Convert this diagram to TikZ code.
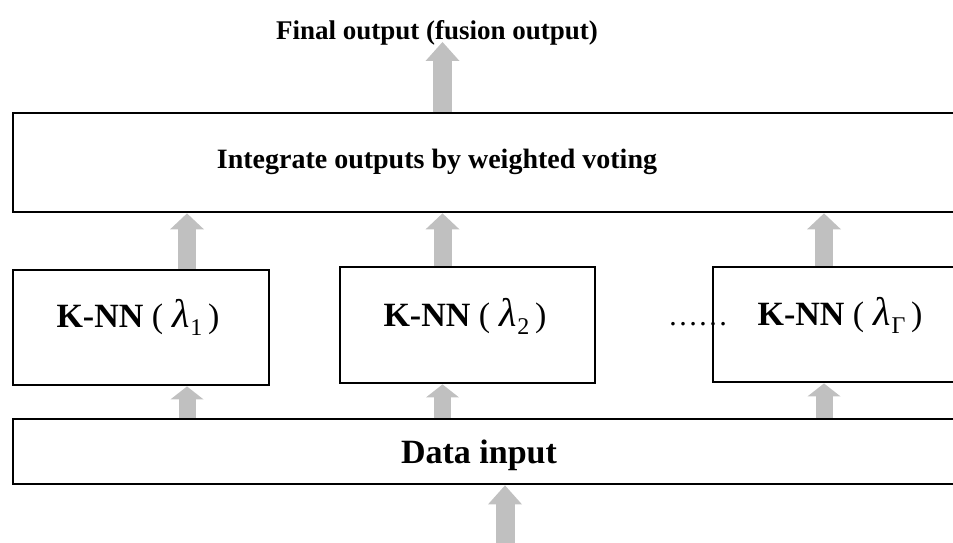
\documentclass[tikz,border=0pt]{standalone}
\usepackage{fontspec}
\setmainfont{Liberation Serif}
\usetikzlibrary{arrows.meta}
\definecolor{arrowgray}{HTML}{C0C0C0}
\newcommand{\lamsub}[1]{{\mdseries\fontsize{40}{44}\selectfont\itshape λ}\kern0.5pt\raisebox{-8pt}{\mdseries\fontsize{24}{26}\selectfont #1}}
\begin{document}
\begin{tikzpicture}[x=1pt,y=-1pt,
  box/.style={draw=black, line width=2.4pt, fill=white, inner sep=0pt, anchor=north west},
  lbl/.style={font=\bfseries\fontsize{28}{32}\selectfont, anchor=base, inner sep=0pt},
  knnlbl/.style={lbl, font=\bfseries\fontsize{34}{38}\selectfont},
  blk/.style={draw=arrowgray, line width=#1, line cap=butt},
  blkA/.style={blk=18pt, -{Triangle[width=34pt,length=16pt,line width=0pt 0 0]}},
  blkB/.style={blk=17pt, -{Triangle[width=33pt,length=13pt,line width=0pt 0 0]}},
  blkC/.style={blk=19pt, -{Triangle[width=34pt,length=19pt,line width=0pt 0 0]}}]
\useasboundingbox (0,0) rectangle (953,543);
\clip (0,0) rectangle (953,543);

% boxes
\node[box, minimum width=960pt, minimum height=99pt] (integ) at (12,112) {};
\node[box, minimum width=256pt, minimum height=115pt] (knn1) at (12,269) {};
\node[box, minimum width=255pt, minimum height=116pt] (knn2) at (339,266) {};
\node[box, minimum width=300pt, minimum height=115pt] (knn3) at (712,266) {};
\node[box, minimum width=960pt, minimum height=65pt] (data) at (12,418) {};

% texts
\node[lbl, font=\bfseries\fontsize{27}{31}\selectfont] (title) at (437,40) {Final output (fusion output)};
\node[lbl] (integt) at (437,168) {Integrate outputs by weighted voting};
\node[lbl, font=\bfseries\fontsize{34}{38}\selectfont] (datat) at (479,463) {Data input};
\node[knnlbl] (k1t) at (138,327) {K-NN \mdseries(\;\lamsub{1}\,)};
\node[knnlbl] (k2t) at (465,326) {K-NN \mdseries(\;\lamsub{2}\,)};
\node[knnlbl] (k3t) at (840,325) {K-NN \mdseries(\;\lamsub{Γ}\,)};
\node[lbl, font=\fontsize{30}{34}\selectfont] (dots) at (698,325) {……};

% x positions of the arrows
\coordinate (xa) at (187,0);
\coordinate (xb) at (442.5,0);
\coordinate (xc) at (824,0);
\coordinate (xd) at (505,0);
\coordinate (src) at (505,560);
\coordinate (tgt) at (442.5,42);

% arrows
\draw[blkC] (src) -- (data.south -| xd);
\draw[blkB] (data.north -| xa) -- (knn1.south -| xa);
\draw[blkB] (data.north -| xb) -- (knn2.south -| xb);
\draw[blkB] (data.north -| xc) -- (knn3.south -| xc);
\draw[blkA] (knn1.north -| xa) -- (integ.south -| xa);
\draw[blkA] (knn2.north -| xb) -- (integ.south -| xb);
\draw[blkA] (knn3.north -| xc) -- (integ.south -| xc);
\draw[blkC] (integ.north -| xb) -- (tgt);
\end{tikzpicture}
\end{document}
